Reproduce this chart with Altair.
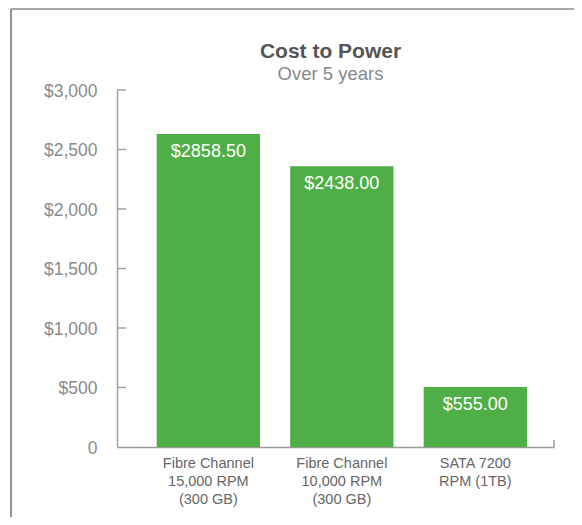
import altair as alt
import pandas as pd

# ---- data ----
categories = [
    "Fibre Channel\n15,000 RPM\n(300 GB)",
    "Fibre Channel\n10,000 RPM\n(300 GB)",
    "SATA 7200\nRPM (1TB)",
]
bar_values = [2630, 2360, 505]          # bar heights as drawn
bar_labels = ["$2858.50", "$2438.00", "$555.00"]  # printed labels
y_ticks = [0, 500, 1000, 1500, 2000, 2500, 3000]

FONT = "Liberation Sans"
GREEN = "#50ae46"
W, H = 437, 357
PAD = {"left": 109, "top": 82, "right": 20, "bottom": 70}

df = pd.DataFrame({"drive": categories, "cost": bar_values, "label": bar_labels})
ticks_df = pd.DataFrame({"cost": y_ticks[1:]})
one = pd.DataFrame({"k": [0]})

x_scale = alt.Scale(paddingInner=0.226, paddingOuter=0.25, align=0.595)
y_scale = alt.Scale(domain=[0, 3000], nice=False, zero=True)

x_axis = alt.Axis(
    title=None, labelAngle=0, ticks=False, tickSize=0, grid=False,
    domainColor="#9a9a9a", domainWidth=1.5,
    labelExpr="split(datum.label, '\\n')", labelLineHeight=18,
    labelFontSize=14.5, labelColor="#666666", labelPadding=9,
    labelFont=FONT, labelLimit=300,
)
y_axis = alt.Axis(
    title=None, values=y_ticks, ticks=False, tickSize=0, grid=False,
    domainColor="#a0a0a0", domainWidth=1.5,
    labelExpr="datum.value == 0 ? '0' : '$' + format(datum.value, ',')",
    labelFontSize=17.5, labelColor="#8a8a8a", labelPadding=20, labelFont=FONT,
    labelOffset=1,
)

bars = alt.Chart(df).mark_bar(color=GREEN).encode(
    x=alt.X("drive:N", sort=None, scale=x_scale, axis=x_axis),
    y=alt.Y("cost:Q", scale=y_scale, axis=y_axis),
)

labels = alt.Chart(df).mark_text(
    color="white", fontSize=18, dy=23, baseline="alphabetic", font=FONT
).encode(
    x=alt.X("drive:N", sort=None, axis=x_axis),
    y=alt.Y("cost:Q", axis=y_axis),
    text="label:N",
)

# inward ticks on the y axis
yticks = alt.Chart(ticks_df).mark_rule(color="#a0a0a0", strokeWidth=1.5).encode(
    y=alt.Y("cost:Q", axis=y_axis),
    x=alt.value(0),
    x2=alt.value(9),
)

# small upward tick at the end of the x axis
xend = alt.Chart(one).mark_rule(color="#9a9a9a", strokeWidth=1.5).encode(
    x=alt.value(W), y=alt.value(H), y2=alt.value(H - 7)
)

# frame lines (top and left)
border_left = alt.Chart(one).mark_rule(color="#6e6e6e", strokeWidth=1.5).encode(
    x=alt.value(-106), y=alt.value(-81), y2=alt.value(H + PAD["bottom"])
)
border_top = alt.Chart(one).mark_rule(color="#8a8a8a", strokeWidth=1.5).encode(
    x=alt.value(-106), x2=alt.value(W + PAD["right"]), y=alt.value(-81)
)

chart = alt.layer(bars, labels, yticks, xend, border_left, border_top).properties(
    width=W,
    height=H,
    background="white",
    title=alt.TitleParams(
        text="Cost to Power",
        subtitle="Over 5 years",
        font=FONT, fontSize=21, fontWeight="bold", color="#555555",
        subtitleFont=FONT, subtitleFontSize=18.5, subtitleColor="#888888",
        anchor="middle", frame="group", dx=-5, dy=75, offset=0,
        subtitlePadding=3,
    ),
    autosize=alt.AutoSizeParams(type="none"),
    padding=PAD,
).configure_view(strokeWidth=0, stroke="transparent")

chart.save("out.html", embed_options={"renderer": "svg", "actions": False})
